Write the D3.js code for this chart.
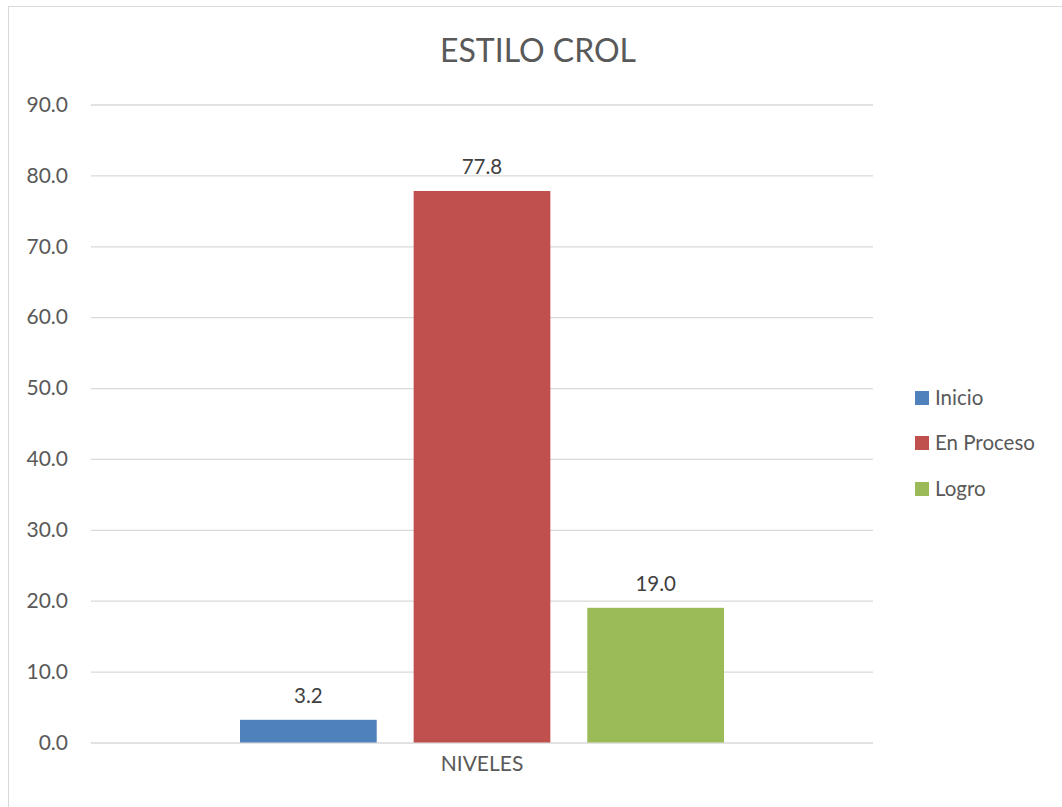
<!DOCTYPE html>
<html>
<head>
<meta charset="utf-8">
<script src="https://cdn.jsdelivr.net/npm/d3@7"></script>
<style>
  html, body { margin: 0; padding: 0; background: #fff; }
  svg { display: block; }
  text { font-family: "Lato", "Open Sans", sans-serif; }
</style>
</head>
<body>
<svg id="chart" width="1062" height="807"></svg>
<script>
const title = "ESTILO CROL";
const categories = ["NIVELES"];
const seriesNames = ["Inicio", "En Proceso", "Logro"];
const seriesValues = [3.2, 77.8, 19.0];
const seriesColors = ["#4F81BD", "#C0504D", "#9BBB59"];
const yTicks = [0, 10, 20, 30, 40, 50, 60, 70, 80, 90];

const svg = d3.select("#chart");
const W = 1062, H = 807;
const plot = { left: 91, right: 873, top: 104.5, bottom: 742.5 };

// chart border (Excel chart area)
svg.append("rect")
  .attr("x", 8.5).attr("y", 6.5)
  .attr("width", W + 10).attr("height", H + 10)
  .attr("fill", "#fff").attr("stroke", "#D9D9D9").attr("stroke-width", 1);

const y = d3.scaleLinear().domain([0, 90]).range([plot.bottom, plot.top]);

const x0 = d3.scaleBand().domain(categories)
  .range([plot.left, plot.right])
  .paddingInner(0).paddingOuter(149 / 484);

const x1 = d3.scaleBand().domain(seriesNames)
  .range([0, x0.bandwidth()])
  .paddingInner(37 / 174).paddingOuter(0);

// gridlines
const yAxis = d3.axisLeft(y).tickValues(yTicks)
  .tickFormat(d3.format(".1f"))
  .tickSize(-(plot.right - plot.left)).tickPadding(23);

const gy = svg.append("g")
  .attr("transform", `translate(${plot.left},0)`)
  .call(yAxis);
gy.select(".domain").remove();
gy.selectAll(".tick line").attr("stroke", "#D9D9D9").attr("stroke-width", 1.3);
gy.selectAll(".tick text")
  .attr("fill", "#595959").attr("font-size", 21)
  .attr("font-family", "Lato, 'Open Sans', sans-serif");

// bars
const cat = svg.append("g").attr("transform", `translate(${x0(categories[0])},0)`);
cat.selectAll("rect.bar")
  .data(seriesNames.map((s, i) => ({ s, v: seriesValues[i], c: seriesColors[i] })))
  .join("rect")
  .attr("class", "bar")
  .attr("x", d => x1(d.s))
  .attr("y", d => y(d.v))
  .attr("width", x1.bandwidth())
  .attr("height", d => y(0) - y(d.v))
  .attr("fill", d => d.c);

cat.selectAll("text.lbl")
  .data(seriesNames.map((s, i) => ({ s, v: seriesValues[i] })))
  .join("text")
  .attr("class", "lbl")
  .attr("x", d => x1(d.s) + x1.bandwidth() / 2)
  .attr("y", d => y(d.v) - 17)
  .attr("text-anchor", "middle")
  .attr("font-size", 20.5)
  .attr("fill", "#404040")
  .text(d => d3.format(".1f")(d.v));

// x axis category label
const xAxis = d3.axisBottom(x0).tickSize(0).tickPadding(14);
const gx = svg.append("g")
  .attr("transform", `translate(0,${plot.bottom})`)
  .call(xAxis);
gx.select(".domain").remove();
gx.selectAll(".tick text")
  .attr("fill", "#595959").attr("font-size", 21)
  .attr("font-family", "Lato, 'Open Sans', sans-serif");

// title
svg.append("text")
  .attr("x", 538).attr("y", 62)
  .attr("text-anchor", "middle")
  .attr("font-size", 32)
  .attr("fill", "#595959")
  .text(title);

// legend
const legY = [398, 443, 489];
const leg = svg.append("g");
seriesNames.forEach((s, i) => {
  leg.append("rect")
    .attr("x", 915).attr("y", legY[i] - 7)
    .attr("width", 14).attr("height", 14)
    .attr("fill", seriesColors[i]);
  leg.append("text")
    .attr("x", 935).attr("y", legY[i])
    .attr("dy", "0.35em")
    .attr("font-size", 20.5)
    .attr("fill", "#595959")
    .text(s);
});
</script>
</body>
</html>
